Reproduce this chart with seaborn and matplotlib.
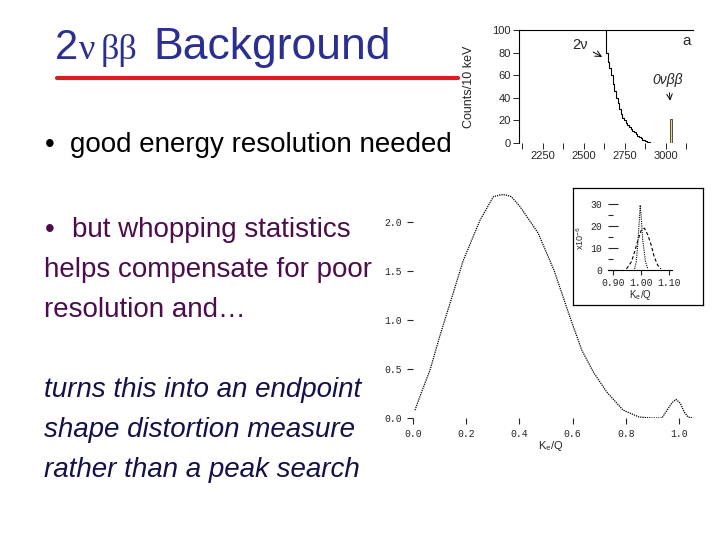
import matplotlib
matplotlib.use("Agg")
import matplotlib.pyplot as plt
from matplotlib.lines import Line2D
import seaborn as sns

# top panel: measured spectrum, counts per 10 keV
energy_kev = [2620, 2630, 2640, 2650, 2660, 2670, 2680, 2690, 2700, 2710, 2720, 2730,
              2740, 2750, 2760, 2770, 2780, 2790, 2800, 2810, 2820, 2830, 2840, 2850,
              2860, 2870, 2880, 2890, 2900, 2910, 2920, 2930]
counts_2nu = [130, 115, 80, 72, 66, 60, 52, 46, 40, 35, 30, 26,
              22, 20, 18, 16, 14, 12, 11, 9.5, 8, 6.5, 5, 4,
              3, 2.3, 1.7, 1.1, 0.6, 0.3, 0, 0]
peak_0nu_kev = [3032]
peak_0nu_counts = [21]

# main panel: summed electron energy spectrum
ke_q = [0.0075, 0.03, 0.064, 0.10, 0.139, 0.189, 0.252, 0.302, 0.33, 0.346, 0.37,
        0.402, 0.47, 0.53, 0.59, 0.635, 0.68, 0.73, 0.79, 0.85, 0.90, 0.936,
        0.955, 0.975, 0.989, 1.005, 1.02, 1.034, 1.053]
rate = [0.08, 0.25, 0.49, 0.83, 1.17, 1.61, 2.02, 2.26, 2.28, 2.28, 2.26,
        2.16, 1.89, 1.51, 1.03, 0.69, 0.46, 0.26, 0.08, 0.01, 0.0, 0.0,
        0.08, 0.16, 0.19, 0.15, 0.06, 0.01, 0.0]

# inset: endpoint region (x10^-6)
ins_x_wide = [0.948, 0.966, 0.977, 0.989, 1.001, 1.012, 1.024, 1.036, 1.047, 1.059, 1.071]
ins_y_wide = [0.5, 3.8, 8.3, 13.6, 18.2, 19.0, 16.0, 11.4, 6.0, 2.3, 0.5]
ins_x_narrow = [0.977, 0.983, 0.989, 0.995, 0.997, 1.001, 1.006, 1.016, 1.024]
ins_y_narrow = [0.5, 3.8, 12.9, 25.0, 29.5, 23.6, 13.6, 3.8, 0.5]

sns.set_style("white")
plt.rcParams["font.family"] = ["Liberation Sans", "DejaVu Sans"]
plt.rcParams["mathtext.fontset"] = "custom"
plt.rcParams["mathtext.rm"] = "Liberation Mono"
plt.rcParams["mathtext.it"] = "Liberation Mono"

W, H = 720, 540
fig = plt.figure(figsize=(7.2, 5.4), dpi=100)

def box(l, t, r, b):
    return [l / W, 1 - b / H, (r - l) / W, (b - t) / H]

# ---- title ----
navy = "#2B2F8F"
fig.text(55 / W, 1 - 59 / H, "2", color=navy, fontsize=30, va="baseline")
fig.text(79 / W, 1 - 59 / H, "ν", color=navy, fontsize=26, va="baseline",
         family="Liberation Serif")
fig.text(101 / W, 1 - 59 / H, "ββ", color=navy, fontsize=26, va="baseline",
         family="Liberation Serif")
fig.text(153 / W, 1 - 59 / H, "Background", color=navy, fontsize=32, va="baseline")
fig.add_artist(Line2D([57 / W, 458 / W], [1 - 78 / H] * 2, color="#E11B1B", lw=3))

# ---- bullet text ----
purple = "#4D0D4D"
ink = "#12124A"
fig.text(45 / W, 1 - 152 / H, "•", fontsize=20, va="baseline", color="black")
fig.text(70 / W, 1 - 152 / H, "good energy resolution needed", fontsize=20,
         va="baseline", color="black")
fig.text(45 / W, 1 - 237 / H, "•", fontsize=20, va="baseline", color=purple)
fig.text(72 / W, 1 - 237 / H, "but whopping statistics", fontsize=20,
         va="baseline", color=purple)
fig.text(44 / W, 1 - 277 / H, "helps compensate for poor", fontsize=20,
         va="baseline", color=purple)
fig.text(44 / W, 1 - 317 / H, "resolution and…", fontsize=20,
         va="baseline", color=purple)
for yb, line in zip([397, 437, 477], ["turns this into an endpoint",
                                      "shape distortion measure",
                                      "rather than a peak search"]):
    fig.text(44 / W, 1 - yb / H, line, fontsize=20, va="baseline",
             color=ink, style="italic")

# ---- top right: measured spectrum ----
ax1 = fig.add_axes(box(519, 30, 693, 143))
sns.lineplot(x=energy_kev, y=counts_2nu, ax=ax1, color="black", lw=0.8,
             drawstyle="steps-mid")
ax1.bar(peak_0nu_kev, peak_0nu_counts, width=14, color="#E9DC7A",
        edgecolor="#333333", linewidth=0.6)
ax1.set_xlim(2104, 3165)
ax1.set_ylim(0, 100)
ax1.set_xticks([2250, 2500, 2750, 3000])
ax1.set_xticks([2125, 2375, 2625, 2875, 3125], minor=True)
ax1.set_yticks([0, 20, 40, 60, 80, 100])
for s in ["right", "bottom"]:
    ax1.spines[s].set_visible(False)
for s in ["top", "left"]:
    ax1.spines[s].set_color("black")
    ax1.spines[s].set_linewidth(0.8)
ax1.tick_params(axis="both", which="both", direction="out", length=4,
                width=0.7, labelsize=8, pad=2, bottom=True, left=True)
ax1.set_ylabel("Counts/10 keV", fontsize=9)
ax1.yaxis.set_label_coords(-0.25, 0.5)
ax1.annotate("2ν", xy=(2626, 75), xytext=(2474, 87), fontsize=10.5,
             ha="center", va="center",
             arrowprops=dict(arrowstyle="->", color="black", lw=0.7))
ax1.annotate("0νββ", xy=(3028, 35), xytext=(3012, 56), fontsize=10,
             ha="center", va="center", style="italic",
             arrowprops=dict(arrowstyle="->", color="black", lw=0.7))
ax1.text(3124, 90, "a", fontsize=11, ha="center", va="center")

# ---- main: Ke/Q spectrum ----
mono = "Liberation Mono"
ax2 = fig.add_axes(box(413, 183, 413 + 1.1 * 266, 418))
sns.lineplot(x=ke_q, y=rate, ax=ax2, color="black", lw=0.9,
             linestyle=(0, (1, 0.8)))
ax2.set_xlim(0, 1.1)
ax2.set_ylim(0, 2.4)
ax2.set_xticks([0.0, 0.2, 0.4, 0.6, 0.8, 1.0])
ax2.set_yticks([0.0, 0.5, 1.0, 1.5, 2.0])
ax2.set_xticklabels(["0.0", "0.2", "0.4", "0.6", "0.8", "1.0"], family=mono)
ax2.set_yticklabels(["0.0", "0.5", "1.0", "1.5", "2.0"], family=mono)
for s in ax2.spines.values():
    s.set_visible(False)
ax2.tick_params(axis="both", direction="out", length=4, width=0.8,
                labelsize=7, pad=4, bottom=True, left=True)
ax2.set_xlabel("K$_e$/Q", fontsize=8)
ax2.xaxis.set_label_coords(0.47, -0.09)

# ---- inset ----
axb = fig.add_axes(box(573, 188, 703, 305))
axb.set_xticks([])
axb.set_yticks([])
for s in axb.spines.values():
    s.set_visible(True)
    s.set_color("black")
    s.set_linewidth(0.9)

ax3 = fig.add_axes(box(608, 270 - 32 * 2.2, 608 + 0.23 * 280, 270))
ax3.patch.set_alpha(0)
sns.lineplot(x=ins_x_wide, y=ins_y_wide, ax=ax3, color="black", lw=0.8,
             linestyle=(0, (3, 2)))
sns.lineplot(x=ins_x_narrow, y=ins_y_narrow, ax=ax3, color="black", lw=0.8,
             linestyle=(0, (1, 1)))
ax3.set_xlim(0.882, 1.112)
ax3.set_ylim(0, 32)
ax3.set_xticks([0.9, 1.0, 1.1])
ax3.set_xticklabels(["0.90", "1.00", "1.10"], family=mono)
ax3.set_yticks([0, 10, 20, 30])
ax3.set_yticklabels(["0", "10", "20", "30"], family=mono)
ax3.set_yticks([5, 15, 25], minor=True)
for s in ["top", "right", "left"]:
    ax3.spines[s].set_visible(False)
ax3.spines["bottom"].set_color("black")
ax3.spines["bottom"].set_linewidth(0.8)
ax3.tick_params(axis="y", which="major", direction="in", length=7, width=0.8,
                labelsize=7, pad=4, left=True)
ax3.tick_params(axis="y", which="minor", direction="in", length=3.5, width=0.8,
                left=True)
ax3.tick_params(axis="x", direction="out", length=3.5, width=0.8,
                labelsize=7, pad=2, bottom=True)
ax3.set_xlabel("K$_e$/Q", fontsize=7, labelpad=0)
ax3.set_ylabel("x10$^{-6}$", fontsize=6.5)
ax3.yaxis.set_label_coords(-0.34, 0.45)

fig.savefig("out.png", dpi=100)
